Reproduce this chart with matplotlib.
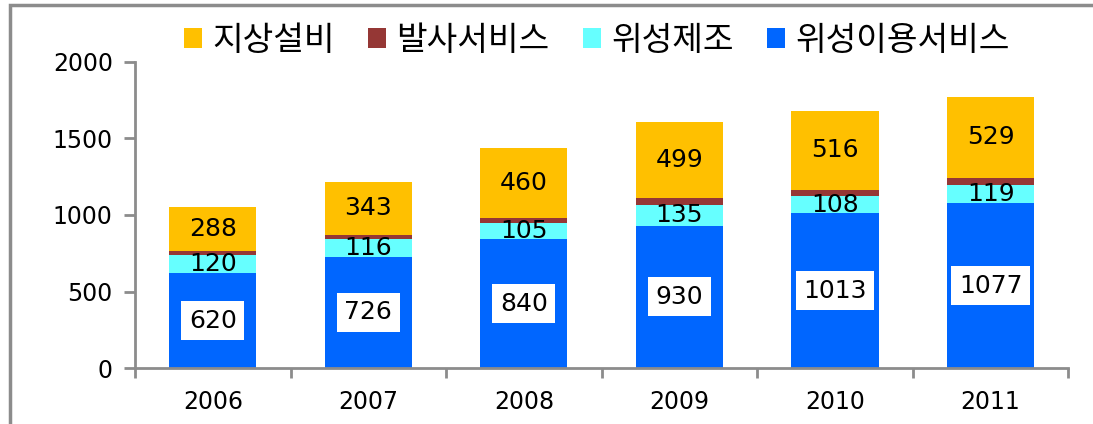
import numpy as np
import matplotlib
matplotlib.use("Agg")
import matplotlib.pyplot as plt
from matplotlib.patches import Rectangle

plt.rcParams['font.family'] = ['Noto Sans CJK KR', 'DejaVu Sans']

years = ["2006", "2007", "2008", "2009", "2010", "2011"]
sat_use = [620, 726, 840, 930, 1013, 1077]      # 위성이용서비스
sat_mfg = [120, 116, 105, 135, 108, 119]        # 위성제조
launch = [25, 30, 35, 45, 45, 47]               # 발사서비스 (unlabelled)
ground = [288, 343, 460, 499, 516, 529]         # 지상설비

names = ["위성이용서비스", "위성제조", "발사서비스", "지상설비"]
colors = ["#0066FF", "#66FFFF", "#953735", "#FFC000"]

fig = plt.figure(figsize=(10.93, 4.24), dpi=100)
ax = fig.add_axes([0.1235, 0.132, 0.854, 0.722])

x = np.arange(len(years))
w = 0.56
series = [sat_use, sat_mfg, launch, ground]
bottom = np.zeros(len(years))
bars = {}
for vals, name, c in zip(series, names, colors):
    vals = np.array(vals, dtype=float)
    bars[name] = ax.bar(x, vals, w, bottom=bottom, color=c, label=name, zorder=2)
    bottom += vals

lab_fs = 18
for i in range(len(years)):
    ax.text(x[i], sat_use[i] / 2, str(sat_use[i]), ha="center", va="center", fontsize=lab_fs,
            family="DejaVu Sans", zorder=3,
            bbox=dict(boxstyle="square,pad=0.3", fc="white", ec="none"))
    ax.text(x[i], sat_use[i] + sat_mfg[i] / 2, str(sat_mfg[i]), ha="center", va="center",
            fontsize=lab_fs, family="DejaVu Sans", zorder=3)
    base = sat_use[i] + sat_mfg[i] + launch[i]
    ax.text(x[i], base + ground[i] / 2, str(ground[i]), ha="center", va="center",
            fontsize=lab_fs, family="DejaVu Sans", zorder=3)

ax.set_ylim(0, 2000)
ax.set_xlim(-0.5, len(years) - 0.5)
ax.set_yticks([0, 500, 1000, 1500, 2000])
ax.set_xticks(x)
ax.set_xticklabels(years)
ax.set_xticks(np.arange(-0.5, len(years), 1), minor=True)
for s in ["top", "right"]:
    ax.spines[s].set_visible(False)
for s in ["left", "bottom"]:
    ax.spines[s].set_color("#8c8c8c")
    ax.spines[s].set_linewidth(2)
ax.tick_params(axis="y", colors="#8c8c8c", width=2, length=8, labelcolor="black",
               labelsize=17, pad=8)
ax.tick_params(axis="x", which="major", length=0, labelsize=17, pad=16)
ax.tick_params(axis="x", which="minor", colors="#8c8c8c", width=2, length=7)
for t in ax.get_xticklabels() + ax.get_yticklabels():
    t.set_family("DejaVu Sans")

h = [bars[n] for n in ["지상설비", "발사서비스", "위성제조", "위성이용서비스"]]
leg = fig.legend(h, ["지상설비", "발사서비스", "위성제조", "위성이용서비스"], ncol=4,
                 loc="center", bbox_to_anchor=(0.546, 0.905), frameon=False,
                 fontsize=24, handlelength=0.55, handleheight=0.55, handletextpad=0.3,
                 columnspacing=1.0)

fig.patches.append(Rectangle((10 / 1093, -0.05), 1.1, 1 - 5 / 424 + 0.05,
                             transform=fig.transFigure, fill=False,
                             ec="#8c8c8c", lw=2.5))

fig.savefig("out.png", dpi=100)
